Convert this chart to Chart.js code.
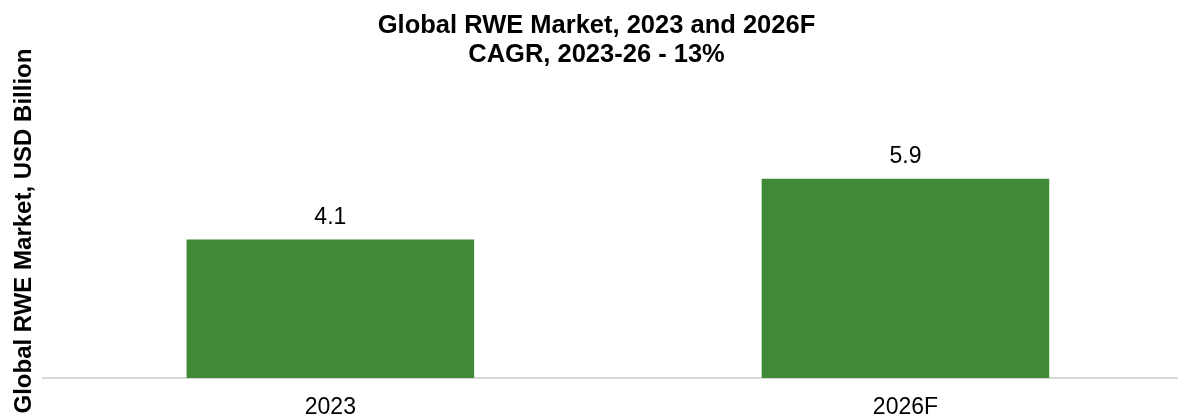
<!DOCTYPE html>
<html>
<head>
<meta charset="utf-8">
<script src="https://cdn.jsdelivr.net/npm/chart.js@4/dist/chart.umd.min.js"></script>
<style>
  html, body { margin: 0; padding: 0; background: #fff; overflow: hidden; }
  #wrap { position: relative; width: 1194px; height: 416px; }
</style>
</head>
<body>
<div id="wrap"><canvas id="chart"></canvas></div>
<script>
const categories = ['2023', '2026F'];
const marketValues = [4.1, 5.9];
const titleLines = ['Global RWE Market, 2023 and 2026F', 'CAGR, 2023-26 - 13%'];
const yAxisTitle = 'Global RWE Market, USD Billion';

const FONT = '"Liberation Sans", Arial, Helvetica, sans-serif';

// draws the value above each bar
const barValues = {
  id: 'barValues',
  afterDatasetsDraw(chart) {
    const {ctx} = chart;
    const meta = chart.getDatasetMeta(0);
    ctx.save();
    ctx.font = '23px ' + FONT;
    ctx.fillStyle = '#000';
    ctx.textAlign = 'center';
    ctx.textBaseline = 'alphabetic';
    meta.data.forEach((bar, i) => {
      ctx.fillText(String(marketValues[i]), bar.x, bar.y - 16);
    });
    ctx.restore();
  },
};

const ctx = document.getElementById('chart').getContext('2d');
new Chart(ctx, {
  type: 'bar',
  data: {
    labels: categories,
    datasets: [
      {
        data: marketValues,
        backgroundColor: '#3F8937',
        borderWidth: 0,
        categoryPercentage: 1,
        barPercentage: 0.5,
      },
    ],
  },
  plugins: [barValues],
  options: {
    responsive: true,
    maintainAspectRatio: false,
    animation: false,
    layout: {padding: {left: 0, right: 1, top: 0, bottom: 0}},
    plugins: {
      legend: {display: false},
      tooltip: {enabled: false},
      title: {
        display: true,
        text: titleLines,
        color: '#000',
        font: {family: FONT, size: 25.5, weight: 'bold', lineHeight: 1.12},
        padding: {top: 12, bottom: 15},
      },
    },
    scales: {
      x: {
        grid: {display: false, drawTicks: false},
        border: {display: true, color: '#D9D9D9', width: 2},
        ticks: {
          color: '#000',
          padding: 16,
          font: {family: FONT, size: 23},
        },
        afterFit: (scale) => {
          scale.height = 38;
        },
      },
      y: {
        min: 0,
        max: 8.7,
        grid: {display: false, drawTicks: false},
        border: {display: false},
        ticks: {display: false},
        title: {
          display: true,
          text: yAxisTitle,
          color: '#000',
          font: {family: FONT, size: 24, weight: 'bold', lineHeight: 1.2},
          padding: {top: 10, bottom: 4},
        },
      },
    },
  },
});
</script>
</body>
</html>
